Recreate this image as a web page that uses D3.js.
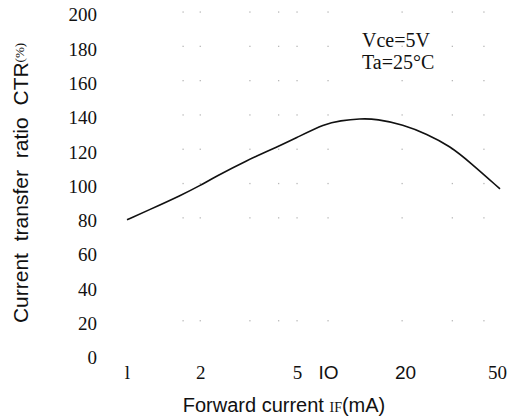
<!DOCTYPE html>
<html>
<head>
<meta charset="utf-8">
<script src="https://cdn.jsdelivr.net/npm/d3@7"></script>
<style>
    body { margin: 0; background: #fff; }
    svg { display: block; }
</style>
</head>
<body>
<div id="chart"></div>
<script>
// Forward current IF (mA) and CTR (%)
var currentMA = [1, 1.22, 1.68, 2, 2.3, 3.15, 3.8, 5, 9.35, 11.2, 13.5, 15.8, 20.2, 25.2, 31.3, 37.8, 50];
var ctrPct = [80, 85.5, 94.5, 100, 105, 115, 120, 128, 136, 137.8, 139, 138.8, 135.5, 130, 123, 113.5, 98];

var xTickValues = [1, 2, 5, 10, 20, 50];
var xTickLabels = ['l', '2', '5', 'IO', '20', '50'];
var yTickValues = [0, 20, 40, 60, 80, 100, 120, 140, 160, 180, 200];

// faint dotted grid positions
var gridX = [1.7, 2, 3.2, 4.2, 5, 10, 20, 32, 43];
var gridY = [20, 80, 100, 120, 140, 160, 180, 200];

var conditions = ['Vce=5V', 'Ta=25\u00b0C'];

var width = 513;
var height = 419;

var svg = d3.select('#chart').append('svg')
    .attr('width', width)
    .attr('height', height);

// the printed axis is not a clean log scale, so it is piecewise
var xScale = d3.scaleLog()
    .domain([1, 5, 10, 50])
    .range([127, 297, 328, 500]);

var yScale = d3.scaleLinear()
    .domain([0, 200])
    .range([357, 14]);

var serif = '"Liberation Serif", "DejaVu Serif", serif';
var sans = '"Liberation Sans", Arial, sans-serif';

// Grid dots
var cells = [];
gridY.forEach(function (gy) {
    gridX.forEach(function (gx) {
        cells.push({x: gx, y: gy});
    });
});
svg.append('g').selectAll('rect')
    .data(cells).enter()
    .append('rect')
        .attr('x', function (d) { return xScale(d.x) - 0.6; })
        .attr('y', function (d) { return yScale(d.y) - 2.6; })
        .attr('width', 1.3)
        .attr('height', 1.3)
        .attr('fill', '#b8b8b8');

// Y tick labels
var yAxis = svg.append('g')
    .attr('transform', 'translate(97,0)')
    .call(d3.axisLeft(yScale).tickValues(yTickValues).tickSize(0).tickPadding(0));
yAxis.attr('font-family', serif).attr('font-size', 19);
yAxis.select('.domain').remove();
yAxis.selectAll('text')
    .attr('dy', '0.36em')
    .attr('font-family', serif)
    .style('fill', '#111');

// X tick labels
var xAxis = svg.append('g')
    .attr('transform', 'translate(0,371)')
    .call(d3.axisBottom(xScale)
        .tickValues(xTickValues)
        .tickSize(0)
        .tickPadding(0)
        .tickFormat(function (d, i) { return xTickLabels[i]; }));
xAxis.attr('font-family', serif).attr('font-size', 19);
xAxis.select('.domain').remove();
xAxis.selectAll('text')
    .attr('dy', '0.4em')
    .attr('dx', function (d, i) { return i === xTickValues.length - 1 ? -3 : (i === 4 ? 3 : 0); })
    .attr('font-family', function (d, i) { return (i === 3 || i === 4) ? sans : serif; })
    .style('fill', '#111');

// Curve
var line = d3.line()
    .x(function (d) { return xScale(d[0]); })
    .y(function (d) { return yScale(d[1]); })
    .curve(d3.curveBasis);

svg.append('path')
    .datum(d3.zip(currentMA, ctrPct))
    .attr('fill', 'none')
    .attr('stroke', '#111')
    .attr('stroke-width', 1.6)
    .attr('d', line);

// Conditions
svg.append('g').selectAll('text')
    .data(conditions).enter()
    .append('text')
        .attr('x', 362)
        .attr('y', function (d, i) { return 47 + i * 22; })
        .style('font-family', serif)
        .style('font-size', '20px')
        .style('fill', '#111')
        .text(function (d) { return d; });

// X axis title
var xTitle = svg.append('text')
    .attr('x', 284)
    .attr('y', 412)
    .attr('text-anchor', 'middle')
    .style('font-family', sans)
    .style('font-size', '20px')
    .style('fill', '#111');
xTitle.append('tspan').text('Forward current ');
xTitle.append('tspan').style('font-family', serif).style('font-size', '14px').text('IF');
xTitle.append('tspan').text('(mA)');

// Y axis title
var yTitle = svg.append('text')
    .attr('transform', 'translate(28,183) rotate(-90)')
    .attr('text-anchor', 'middle')
    .style('font-family', sans)
    .style('font-size', '21px')
    .style('word-spacing', '6px')
    .style('fill', '#111');
yTitle.append('tspan').text('Current transfer ratio CTR');
yTitle.append('tspan').style('font-family', serif).style('font-size', '13px').attr('dy', '-0.3em').text('(%)');
</script>
</body>
</html>
